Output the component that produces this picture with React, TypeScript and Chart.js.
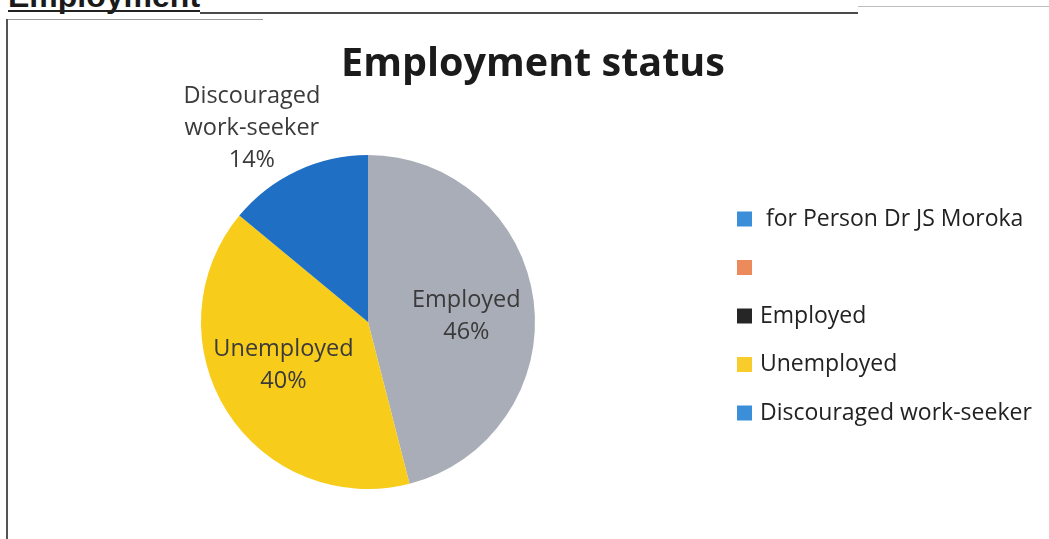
import React, { useEffect, useRef } from 'react';
import { Chart, registerables } from 'chart.js';

Chart.register(...registerables);

const pageHeading = 'Employment';
const chartTitle = 'Employment status';
const sliceLabels = ['Employed', 'Unemployed', 'Discouraged work-seeker'];
const sliceValues = [46, 40, 14];
const sliceColors = ['#a9adb7', '#f8cc1b', '#1f6fc5'];
const sliceLabelLines = [['Employed'], ['Unemployed'], ['Discouraged', 'work-seeker']];
const legendLabels = [' for Person Dr JS Moroka', '', 'Employed', 'Unemployed', 'Discouraged work-seeker'];
const legendColors = ['#3b8ed8', '#ec8a5c', '#262626', '#f8cc2a', '#3b8ed8'];

// label placement (radius factor of outer radius, angle nudge in degrees)
const labelRadius = [0.59, 0.57, 1.35];
const labelShift = [3.7, 5, -5.8];

const FONT = '"Open Sans", "Noto Sans", sans-serif';

const decorPlugin = {
  id: 'decor',
  afterDraw(chart: any) {
    const ctx = chart.ctx as CanvasRenderingContext2D;
    ctx.save();
    // title
    ctx.fillStyle = '#1b1b1b';
    ctx.font = `bold 39.5px ${FONT}`;
    ctx.textAlign = 'center';
    ctx.textBaseline = 'alphabetic';
    ctx.fillText(chartTitle, 533, 76);

    // slice labels
    const meta = chart.getDatasetMeta(0);
    const total = sliceValues.reduce((a, b) => a + b, 0);
    ctx.font = `23.5px ${FONT}`;
    ctx.textBaseline = 'middle';
    meta.data.forEach((arc: any, i: number) => {
      const p = arc.getProps(['x', 'y', 'startAngle', 'endAngle', 'outerRadius'], true);
      const mid = (p.startAngle + p.endAngle) / 2 + (labelShift[i] * Math.PI) / 180;
      const r = p.outerRadius * labelRadius[i];
      const cx = p.x + Math.cos(mid) * r;
      const cy = p.y + Math.sin(mid) * r;
      const lines = [...sliceLabelLines[i], Math.round((sliceValues[i] / total) * 100) + '%'];
      const lh = 32;
      ctx.fillStyle = '#3a3a3a';
      lines.forEach((ln, k) => {
        ctx.fillText(ln, cx, cy + (k - (lines.length - 1) / 2) * lh);
      });
    });

    // legend
    const top = 219;
    const step = 48.5;
    ctx.textAlign = 'left';
    ctx.font = `23px ${FONT}`;
    legendLabels.forEach((lab, i) => {
      const y = top + i * step;
      ctx.fillStyle = legendColors[i];
      ctx.fillRect(737, y - 7.5, 15, 15);
      ctx.fillStyle = '#222222';
      ctx.fillText(lab, 760, y);
    });
    ctx.restore();
  },
};

export default function App() {
  const ref = useRef<HTMLCanvasElement | null>(null);
  useEffect(() => {
    if (!ref.current) return;
    const chart = new Chart(ref.current, {
      type: 'pie',
      data: {
        labels: sliceLabels,
        datasets: [
          {
            data: sliceValues,
            backgroundColor: sliceColors,
            borderWidth: 0,
            hoverOffset: 0,
          },
        ],
      },
      options: {
        responsive: false,
        animation: false,
        events: [],
        layout: { padding: { left: 201, right: 514, top: 155, bottom: 50 } },
        plugins: {
          legend: { display: false },
          title: { display: false },
          tooltip: { enabled: false },
        },
      },
      plugins: [decorPlugin],
    });
    return () => chart.destroy();
  }, []);

  return (
    <div style={{ position: 'absolute', left: 0, top: 0, width: 1049, height: 539, background: '#fff', overflow: 'hidden' }}>
      <div
        style={{
          position: 'absolute',
          left: 8,
          top: -20,
          font: 'bold 32px "Liberation Sans", Arial, sans-serif',
          lineHeight: '32px',
          color: '#1a1a1a',
          whiteSpace: 'nowrap',
        }}
      >
        {pageHeading}
      </div>
      <div style={{ position: 'absolute', left: 8, top: 10, width: 192, height: 2, background: '#222' }} />
      <div style={{ position: 'absolute', left: 200, top: 12, width: 658, height: 2, background: '#4a4a4a' }} />
      <div style={{ position: 'absolute', left: 858, top: 6, width: 191, height: 1, background: '#bdbdbd' }} />
      <div style={{ position: 'absolute', left: 8, top: 19, width: 255, height: 1, background: '#9a9a9a' }} />
      <div style={{ position: 'absolute', left: 6, top: 19, width: 2, height: 520, background: '#555' }} />
      <canvas ref={ref} width={1049} height={539} style={{ position: 'absolute', left: 0, top: 0, width: 1049, height: 539 }} />
    </div>
  );
}
